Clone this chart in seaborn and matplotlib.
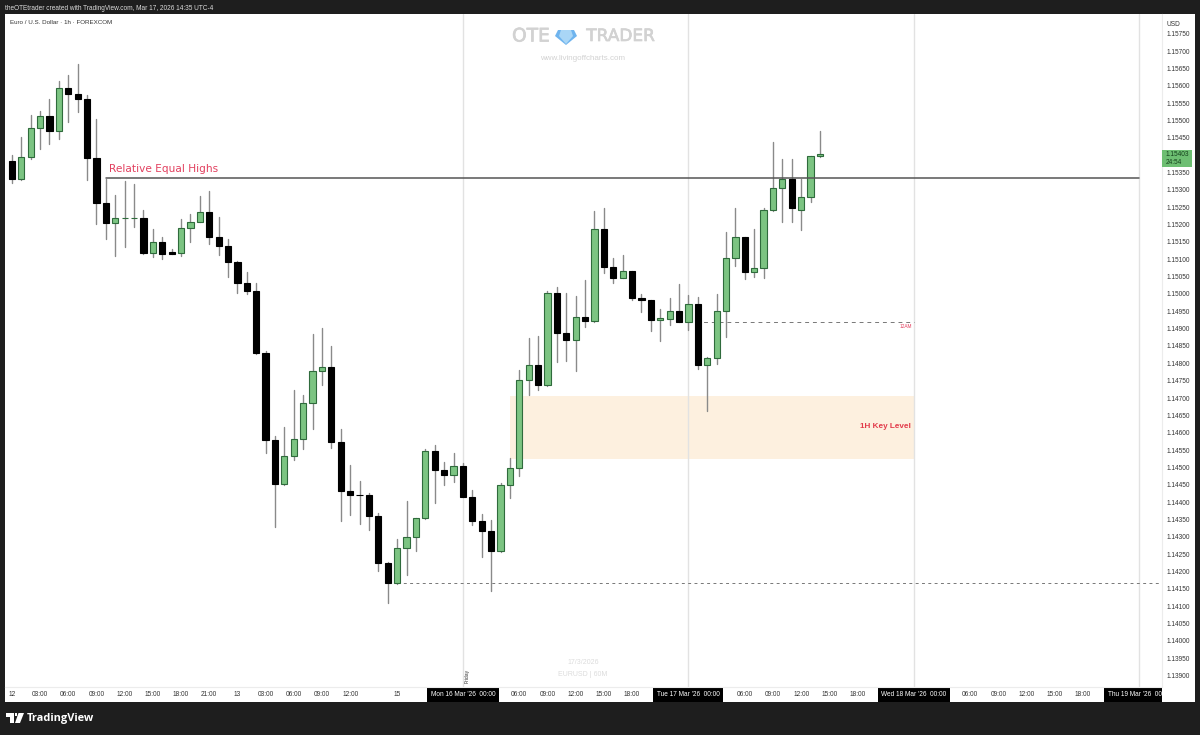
import matplotlib
matplotlib.use("Agg")
import matplotlib.pyplot as plt
import matplotlib.patheffects as pe
from matplotlib.patches import Rectangle, Polygon
import numpy as np
import pandas as pd
import seaborn as sns

opens = [1.15384,1.15330,1.15394,1.15479,1.15512,1.15471,1.15595,1.15577,1.15562,1.15392,
         1.15261,1.15204,1.15218,1.15218,1.15219,1.15119,1.15150,1.15120,1.15119,1.15189,
         1.15208,1.15235,1.15164,1.15138,1.15093,1.15031,1.15008,1.14830,1.14579,1.14451,
         1.14532,1.14582,1.14685,1.14778,1.14789,1.14572,1.14431,1.14421,1.14421,1.14359,
         1.14224,1.14166,1.14267,1.14299,1.14353,1.14548,1.14492,1.14479,1.14505,1.14415,
         1.14346,1.14316,1.14258,1.14448,1.14499,1.14753,1.14794,1.14737,1.15003,1.14888,
         1.14868,1.14935,1.14921,1.15186,1.15078,1.15046,1.15065,1.14989,1.14983,1.14925,
         1.14929,1.14951,1.14920,1.14971,1.14794,1.14816,1.14950,1.15103,1.15163,1.15063,
         1.15075,1.15241,1.15304,1.15331,1.15241,1.15279,1.15397]
highs = [1.15400,1.15452,1.15516,1.15527,1.15562,1.15614,1.15631,1.15663,1.15573,1.15504,
         1.15331,1.15286,1.15325,1.15317,1.15242,1.15187,1.15163,1.15129,1.15216,1.15231,
         1.15283,1.15296,1.15222,1.15158,1.15095,1.15064,1.15033,1.14836,1.14591,1.14616,
         1.14723,1.14708,1.14884,1.14903,1.14849,1.14610,1.14506,1.14460,1.14427,1.14368,
         1.14226,1.14293,1.14404,1.14355,1.14554,1.14565,1.14515,1.14541,1.14514,1.14434,
         1.14365,1.14348,1.14454,1.14526,1.14780,1.14872,1.14879,1.15008,1.15021,1.15002,
         1.14994,1.15040,1.15238,1.15248,1.15105,1.15111,1.15066,1.14999,1.14984,1.14956,
         1.14987,1.15028,1.14998,1.14991,1.14817,1.15001,1.15180,1.15248,1.15164,1.15188,
         1.15247,1.15437,1.15388,1.15389,1.15331,1.15398,1.15471]
lows = [1.15320,1.15328,1.15390,1.15418,1.15432,1.15447,1.15495,1.15525,1.15328,1.15201,
        1.15157,1.15109,1.15136,1.15194,1.15115,1.15107,1.15101,1.15115,1.15109,1.15150,
        1.15208,1.15145,1.15112,1.15050,1.15002,1.15000,1.14827,1.14541,1.14329,1.14449,
        1.14521,1.14553,1.14611,1.14738,1.14557,1.14345,1.14362,1.14337,1.14319,1.14201,
        1.14110,1.14165,1.14191,1.14260,1.14352,1.14398,1.14449,1.14459,1.14414,1.14334,
        1.14242,1.14145,1.14257,1.14411,1.14475,1.14710,1.14723,1.14736,1.14804,1.14806,
        1.14778,1.14905,1.14920,1.15059,1.15031,1.15045,1.14982,1.14949,1.14892,1.14865,
        1.14910,1.14919,1.14896,1.14783,1.14662,1.14799,1.14877,1.15081,1.15042,1.15049,
        1.15045,1.15240,1.15208,1.15208,1.15183,1.15266,1.15396]
closes = [1.15331,1.15394,1.15479,1.15512,1.15471,1.15595,1.15577,1.15562,1.15392,1.15261,
          1.15204,1.15219,1.15219,1.15219,1.15119,1.15150,1.15116,1.15116,1.15189,1.15208,
          1.15235,1.15164,1.15138,1.15093,1.15031,1.15008,1.14829,1.14579,1.14451,1.14532,
          1.14582,1.14685,1.14778,1.14788,1.14572,1.14431,1.14420,1.14420,1.14359,1.14224,
          1.14166,1.14267,1.14299,1.14353,1.14547,1.14493,1.14479,1.14505,1.14415,1.14346,
          1.14316,1.14258,1.14448,1.14499,1.14753,1.14794,1.14737,1.15003,1.14888,1.14868,
          1.14935,1.14921,1.15186,1.15078,1.15046,1.15065,1.14987,1.14983,1.14925,1.14930,
          1.14951,1.14920,1.14971,1.14794,1.14816,1.14950,1.15103,1.15163,1.15063,1.15075,
          1.15241,1.15304,1.15331,1.15248,1.15279,1.15397,1.15403]

time_tick_bars = [0,3,6,9,12,15,18,21,24,27,30,33,36,41,48,54,57,60,63,66,72,78,81,84,87,90,96,102,105,108,111,114,120]
time_tick_labels = ["12","03:00","06:00","09:00","12:00","15:00","18:00","21:00","13","03:00","06:00",
                    "09:00","12:00","15","Mon 16 Mar '26  00:00","06:00","09:00","12:00","15:00","18:00",
                    "Tue 17 Mar '26  00:00","06:00","09:00","12:00","15:00","18:00",
                    "Wed 18 Mar '26  00:00","06:00","09:00","12:00","15:00","18:00","Thu 19 Mar '26  00:00"]
price_ticks = [1.139,1.1395,1.14,1.1405,1.141,1.1415,1.142,1.1425,1.143,1.1435,1.144,1.1445,1.145,1.1455,
               1.146,1.1465,1.147,1.1475,1.148,1.1485,1.149,1.1495,1.15,1.1505,1.151,1.1515,1.152,1.1525,
               1.153,1.1535,1.154,1.1545,1.155,1.1555,1.156,1.1565,1.157,1.1575]
day_lines = [48,72,96,120]
equal_highs_level = 1.15333
midnight_level = 1.14920
sweep_low_level = 1.14166
zone_low, zone_high = 1.14524, 1.14706

GREEN, GREEN_EDGE, WICK, RED, FRAME = "#7cc482", "#2f6b3c", "#8a8a8a", "#e2405f", "#1e1e1e"
W, H = 1200, 735

sns.set_theme(style="white")
plt.rcParams["font.family"] = ["Liberation Sans", "DejaVu Sans"]

fig = plt.figure(figsize=(12, 7.35), dpi=100, facecolor=FRAME)
fig.patches.append(Rectangle((5/W, 1-702/H), 1190/W, 688/H, transform=fig.transFigure, fc="white", ec="none", zorder=-5))
ax = fig.add_axes([5/W, 1-687/H, 1157/W, 673/H], facecolor="none")

df = pd.DataFrame({"bar": np.arange(len(opens)), "open": opens, "high": highs, "low": lows, "close": closes})
df["base"] = df[["open", "close"]].min(axis=1)
df["height"] = (df["open"] - df["close"]).abs()
df["up"] = df["close"] >= df["open"]

wicks = pd.concat([df[["bar", "high"]].rename(columns={"high": "price"}),
                   df[["bar", "low"]].rename(columns={"low": "price"})]).sort_values("bar")
sns.lineplot(data=wicks, x="bar", y="price", units="bar", estimator=None, color=WICK, lw=1.0,
             ax=ax, zorder=2, legend=False)

up = df[df["up"]]
down = df[~df["up"]]
sns.barplot(data=up, x="bar", y="height", bottom=up["base"].values, native_scale=True, errorbar=None,
            width=0.66, color=GREEN, saturation=1, edgecolor=GREEN_EDGE, linewidth=0.8, ax=ax, zorder=3)
sns.barplot(data=down, x="bar", y="height", bottom=down["base"].values, native_scale=True, errorbar=None,
            width=0.66, color="black", saturation=1, edgecolor="black", linewidth=0.8, ax=ax, zorder=3)

ax.fill_between([53, 96], zone_low, zone_high, color="#fdf0df", lw=0, zorder=0)
for d in day_lines:
    ax.axvline(d, color="#e2e2e2", lw=1.0, zorder=1)
ax.plot([10, 120], [equal_highs_level]*2, color="#555555", lw=1.1, zorder=4)
ax.plot([72, 96], [midnight_level]*2, color="#777777", lw=0.7, ls=(0, (4, 4)), zorder=1.5)
ax.plot([41, 122.4], [sweep_low_level]*2, color="#777777", lw=0.7, ls=(0, (3, 3.5)), zorder=1.5)

ax.set_xlim(-0.734, 122.4)
ax.set_ylim(1.13867, 1.15807)
ax.set_xlabel(""); ax.set_ylabel("")
for s in ["top", "left"]:
    ax.spines[s].set_visible(False)
for s in ["right", "bottom"]:
    ax.spines[s].set_color("#ececec"); ax.spines[s].set_linewidth(0.8)
ax.yaxis.tick_right()
ax.set_yticks(price_ticks, [f"{p:.5f}" for p in price_ticks], fontsize=4.7, color="#333333")
ax.set_xticks(time_tick_bars, time_tick_labels, fontsize=4.7, color="#333333")
ax.tick_params(axis="both", length=0)
ax.tick_params(axis="y", pad=3.6)
ax.tick_params(axis="x", pad=3.0)
for lab, txt in zip(ax.get_xticklabels(), time_tick_labels):
    if "Mar" in txt:
        lab.set_color("white")
        lab.set_bbox(dict(fc="black", ec="none", pad=2.6))

# overlay panel hiding what runs past the axis corners
top = fig.add_axes([0, 0, 1, 1], facecolor="none", zorder=5)
top.set_xlim(0, W); top.set_ylim(H, 0); top.axis("off")
top.add_patch(Rectangle((1162, 688), 33, 14, fc="white", ec="none"))
top.add_patch(Rectangle((1163, 14), 32, 16, fc="white", ec="none"))
top.add_patch(Rectangle((1195, 14), 5, 688, fc=FRAME, ec="none"))

def T(x, y, s, **k):
    k.setdefault("va", "center")
    return top.text(x, y, s, **k)

T(5, 8, "theOTEtrader created with TradingView.com, Mar 17, 2026 14:35 UTC-4", color="#dddddd", fontsize=4.7)
T(10, 22, "Euro / U.S. Dollar · 1h · FOREXCOM", color="#333333", fontsize=4.5)
T(1173, 24, "USD", color="#333333", fontsize=4.7, ha="center")
T(109, 168.5, "Relative Equal Highs", color=RED, fontsize=7.6, family="DejaVu Sans")
T(911, 426, "1H Key Level", color="#e23a4a", fontsize=5.9, ha="right", fontweight="bold")
T(912, 326, "12AM", color=RED, fontsize=3.4, ha="right")
T(467, 676, "Friday", color="#333333", fontsize=3.6, rotation=90, ha="center")

mark_stroke = [pe.withStroke(linewidth=0.5, foreground="#d2d2d2")]
T(531, 36, "OTE", color="#d2d2d2", fontsize=13.4, ha="center", family="DejaVu Sans", path_effects=mark_stroke)
T(620.5, 36, "TRADER", color="#d2d2d2", fontsize=12.2, ha="center", family="DejaVu Sans", path_effects=mark_stroke)
T(583, 58, "www.livingoffcharts.com", color="#d2d2d2", fontsize=5.8, ha="center")
T(583, 662, "17/3/2026", color="#dcdcdc", fontsize=5, ha="center")
T(583, 675, "EURUSD | 60M", color="#dcdcdc", fontsize=5, ha="center")

# diamond emblem of the watermark
top.add_patch(Polygon([[558, 30], [574, 30], [577, 36], [566, 45], [555, 36]], fc="#6fb4ee", ec="none"))
top.add_patch(Polygon([[561, 30], [571, 30], [573, 36], [566, 44], [559, 36]], fc="#a9d6f6", ec="none"))

# current-price tag
top.add_patch(Rectangle((1162, 150), 30, 16.5, fc="#6dbe72", ec="none"))
T(1166, 154.5, "1.15403", color="#14401c", fontsize=4.7)
T(1166, 162, "24:54", color="#14401c", fontsize=4.7)

# TradingView footer
top.add_patch(Polygon([[6, 713], [14, 713], [14, 723], [10, 723], [10, 717], [6, 717]], fc="white", ec="none"))
top.add_patch(Polygon([[18.5, 713], [24, 713], [20, 723], [15, 723]], fc="white", ec="none"))
top.add_patch(Rectangle((14.5, 713), 2.6, 3.2, fc="white", ec="none"))
T(27, 718.5, "TradingView", color="white", fontsize=7.9, fontweight="bold", family="Open Sans")

fig.savefig("out.png", dpi=100, facecolor=fig.get_facecolor())
